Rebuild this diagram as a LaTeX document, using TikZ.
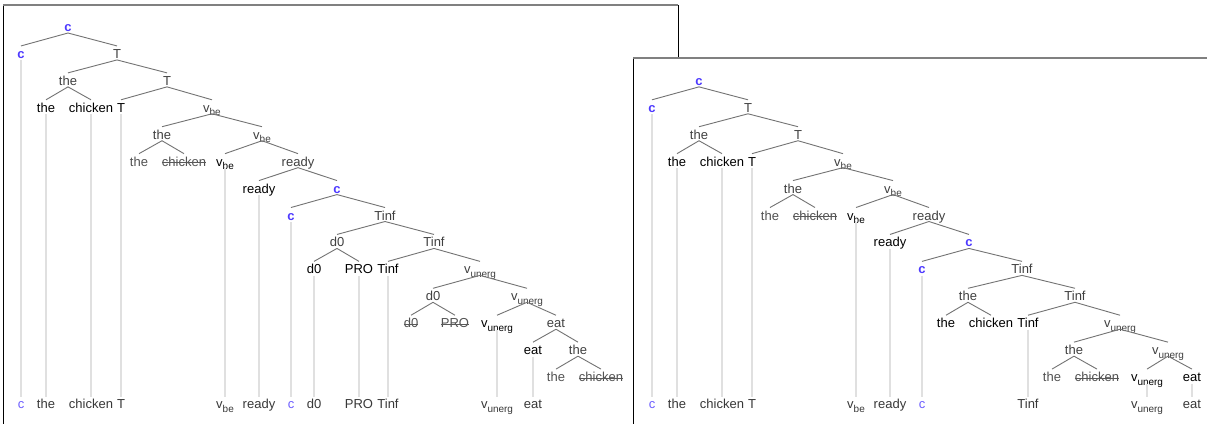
\documentclass[tikz,border=0pt]{standalone}
\usepackage{fontspec}
\setmainfont{Liberation Sans}
\definecolor{cblue}{RGB}{78,58,255}
\definecolor{cbluel}{RGB}{110,95,255}
\newcommand\R[1]{31.5+26.93*#1}
\newcommand\vsub[1]{v\raisebox{-3.5bp}{\fontsize{10}{10}\selectfont #1}}
\newcommand\E[2]{\draw[tedge] ([yshift=-1.5bp]#1.base) -- ([yshift=12.5bp]#2.base);}
\newcommand\Lk[2]{\draw[vlink] ([yshift=-2bp]#1.base) -- ([yshift=11.5bp]#2.base);}
\newcommand\Strk[1]{\draw[strk] ([yshift=3.6bp]#1.base west) -- ([yshift=3.6bp]#1.base east);}
\begin{document}
\begin{tikzpicture}[x=1bp,y=-1bp,
  every node/.style={inner sep=0pt, outer sep=0pt, anchor=base, font=\fontsize{13bp}{15bp}\selectfont},
  inode/.style={text=black!75},
  lnode/.style={text=black},
  tnode/.style={text=black!68},
  bnode/.style={text=black!78},
  cb/.style={text=cblue, font=\fontsize{13bp}{15bp}\selectfont\bfseries},
  cbl/.style={text=cbluel},
  tedge/.style={draw=black!55, line width=0.9bp},
  vlink/.style={draw=black!12, line width=1.6bp},
  strk/.style={draw=black!65, line width=0.8bp},
  frside/.style={draw=black, line width=1bp},
  frtop/.style={draw=black!50, line width=1.8bp}]
\useasboundingbox (0,0) rectangle (1207,423);
\clip (0,0) rectangle (1207,423);
% ---------- left panel frame ----------
\fill[white] (3,5) rectangle (678,440);
\draw[frside] (3,5) -- (3,440);
\draw[frside] (678,5) -- (678,440);
\draw[frtop] (3,5) -- (678,5);
% ---------- left tree ----------
\node[cb]    (a1)  at (68,\R{0})  {c};
\node[cb]    (a2)  at (21,\R{1})  {c};
\node[inode] (a3)  at (117,\R{1}) {T};
\node[inode] (a4)  at (68,\R{2})  {the};
\node[inode] (a5)  at (167,\R{2}) {T};
\node[lnode] (a6)  at (46,\R{3})  {the};
\node[lnode] (a7)  at (91,\R{3})  {chicken};
\node[lnode] (a8)  at (121,\R{3}) {T};
\node[inode] (a9)  at (212,\R{3}) {\vsub{be}};
\node[inode] (a10) at (162,\R{4}) {the};
\node[inode] (a11) at (262,\R{4}) {\vsub{be}};
\node[tnode] (a12) at (139,\R{5}) {the};
\node[tnode] (a13) at (184,\R{5}) {chicken};
\node[lnode] (a14) at (225,\R{5}) {\vsub{be}};
\node[inode] (a15) at (298,\R{5}) {ready};
\node[lnode] (a16) at (259,\R{6}) {ready};
\node[cb]    (a17) at (337,\R{6}) {c};
\node[cb]    (a18) at (291,\R{7}) {c};
\node[inode] (a19) at (385,\R{7}) {Tinf};
\node[inode] (a20) at (337,\R{8}) {d0};
\node[inode] (a21) at (434,\R{8}) {Tinf};
\node[lnode] (a22) at (314,\R{9}) {d0};
\node[lnode] (a23) at (359,\R{9}) {PRO};
\node[lnode] (a24) at (388,\R{9}) {Tinf};
\node[inode] (a25) at (480,\R{9}) {\vsub{unerg}};
\node[inode] (a26) at (433,\R{10}) {d0};
\node[inode] (a27) at (527,\R{10}) {\vsub{unerg}};
\node[tnode] (a28) at (411,\R{11}) {d0};
\node[tnode] (a29) at (455,\R{11}) {PRO};
\node[lnode] (a30) at (497,\R{11}) {\vsub{unerg}};
\node[inode] (a31) at (556,\R{11}) {eat};
\node[lnode] (a32) at (533,\R{12}) {eat};
\node[inode] (a33) at (578,\R{12}) {the};
\node[tnode] (a34) at (556,\R{13}) {the};
\node[tnode] (a35) at (601,\R{13}) {chicken};
% bottom row left
\node[cbl]   (aB1)  at (21,\R{14})  {c};
\node[bnode] (aB2)  at (46,\R{14})  {the};
\node[bnode] (aB3)  at (91,\R{14})  {chicken};
\node[bnode] (aB4)  at (121,\R{14}) {T};
\node[bnode] (aB5)  at (225,\R{14}) {\vsub{be}};
\node[bnode] (aB6)  at (259,\R{14}) {ready};
\node[cbl]   (aB7)  at (291,\R{14}) {c};
\node[bnode] (aB8)  at (314,\R{14}) {d0};
\node[bnode] (aB9)  at (359,\R{14}) {PRO};
\node[bnode] (aB10) at (388,\R{14}) {Tinf};
\node[bnode] (aB11) at (497,\R{14}) {\vsub{unerg}};
\node[bnode] (aB12) at (533,\R{14}) {eat};
\E{a1}{a2}\E{a1}{a3}\E{a3}{a4}\E{a3}{a5}\E{a4}{a6}\E{a4}{a7}
\E{a5}{a8}\E{a5}{a9}\E{a9}{a10}\E{a9}{a11}\E{a10}{a12}\E{a10}{a13}
\E{a11}{a14}\E{a11}{a15}\E{a15}{a16}\E{a15}{a17}\E{a17}{a18}\E{a17}{a19}
\E{a19}{a20}\E{a19}{a21}\E{a20}{a22}\E{a20}{a23}\E{a21}{a24}\E{a21}{a25}
\E{a25}{a26}\E{a25}{a27}\E{a26}{a28}\E{a26}{a29}\E{a27}{a30}\E{a27}{a31}
\E{a31}{a32}\E{a31}{a33}\E{a33}{a34}\E{a33}{a35}
\Lk{a2}{aB1}\Lk{a6}{aB2}\Lk{a7}{aB3}\Lk{a8}{aB4}\Lk{a14}{aB5}\Lk{a16}{aB6}
\Lk{a18}{aB7}\Lk{a22}{aB8}\Lk{a23}{aB9}\Lk{a24}{aB10}\Lk{a30}{aB11}\Lk{a32}{aB12}
\Strk{a13}\Strk{a28}\Strk{a29}\Strk{a35}
% ---------- right panel frame ----------
\fill[white] (633,58) rectangle (1215,440);
\draw[frside] (633,58) -- (633,440);
\draw[frtop] (633,58) -- (1215,58);
% ---------- right tree ----------
\node[cb]    (b1)  at (699,\R{2})  {c};
\node[cb]    (b2)  at (652,\R{3})  {c};
\node[inode] (b3)  at (748,\R{3})  {T};
\node[inode] (b4)  at (699,\R{4})  {the};
\node[inode] (b5)  at (798,\R{4})  {T};
\node[lnode] (b6)  at (677,\R{5})  {the};
\node[lnode] (b7)  at (722,\R{5})  {chicken};
\node[lnode] (b8)  at (752,\R{5})  {T};
\node[inode] (b9)  at (843,\R{5})  {\vsub{be}};
\node[inode] (b10) at (793,\R{6})  {the};
\node[inode] (b11) at (893,\R{6})  {\vsub{be}};
\node[tnode] (b12) at (770,\R{7})  {the};
\node[tnode] (b13) at (815,\R{7})  {chicken};
\node[lnode] (b14) at (856,\R{7})  {\vsub{be}};
\node[inode] (b15) at (929,\R{7})  {ready};
\node[lnode] (b16) at (890,\R{8})  {ready};
\node[cb]    (b17) at (969,\R{8})  {c};
\node[cb]    (b18) at (922,\R{9})  {c};
\node[inode] (b19) at (1022,\R{9}) {Tinf};
\node[inode] (b20) at (968,\R{10}) {the};
\node[inode] (b21) at (1075,\R{10}) {Tinf};
\node[lnode] (b22) at (946,\R{11}) {the};
\node[lnode] (b23) at (991,\R{11}) {chicken};
\node[lnode] (b24) at (1028,\R{11}) {Tinf};
\node[inode] (b25) at (1120,\R{11}) {\vsub{unerg}};
\node[inode] (b26) at (1074,\R{12}) {the};
\node[inode] (b27) at (1168,\R{12}) {\vsub{unerg}};
\node[tnode] (b28) at (1052,\R{13}) {the};
\node[tnode] (b29) at (1097,\R{13}) {chicken};
\node[lnode] (b30) at (1147,\R{13}) {\vsub{unerg}};
\node[lnode] (b31) at (1192,\R{13}) {eat};
% bottom row right
\node[cbl]   (bB1)  at (652,\R{14})  {c};
\node[bnode] (bB2)  at (677,\R{14})  {the};
\node[bnode] (bB3)  at (722,\R{14})  {chicken};
\node[bnode] (bB4)  at (752,\R{14})  {T};
\node[bnode] (bB5)  at (856,\R{14})  {\vsub{be}};
\node[bnode] (bB6)  at (890,\R{14})  {ready};
\node[cbl]   (bB7)  at (922,\R{14})  {c};
\node[bnode] (bB8)  at (1028,\R{14}) {Tinf};
\node[bnode] (bB9)  at (1147,\R{14}) {\vsub{unerg}};
\node[bnode] (bB10) at (1192,\R{14}) {eat};
\E{b1}{b2}\E{b1}{b3}\E{b3}{b4}\E{b3}{b5}\E{b4}{b6}\E{b4}{b7}
\E{b5}{b8}\E{b5}{b9}\E{b9}{b10}\E{b9}{b11}\E{b10}{b12}\E{b10}{b13}
\E{b11}{b14}\E{b11}{b15}\E{b15}{b16}\E{b15}{b17}\E{b17}{b18}\E{b17}{b19}
\E{b19}{b20}\E{b19}{b21}\E{b20}{b22}\E{b20}{b23}\E{b21}{b24}\E{b21}{b25}
\E{b25}{b26}\E{b25}{b27}\E{b26}{b28}\E{b26}{b29}\E{b27}{b30}\E{b27}{b31}
\Lk{b2}{bB1}\Lk{b6}{bB2}\Lk{b7}{bB3}\Lk{b8}{bB4}\Lk{b14}{bB5}\Lk{b16}{bB6}
\Lk{b18}{bB7}\Lk{b24}{bB8}\Lk{b30}{bB9}\Lk{b31}{bB10}
\Strk{b13}\Strk{b29}
\end{tikzpicture}
\end{document}
